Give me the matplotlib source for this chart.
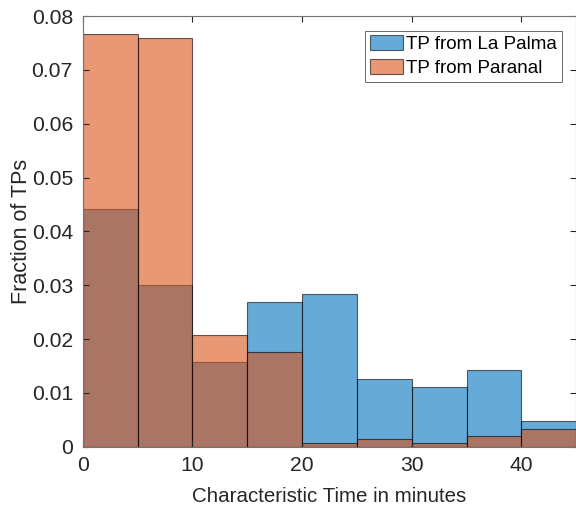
import numpy as np
import matplotlib
matplotlib.use("Agg")
import matplotlib.pyplot as plt

plt.rcParams['font.family'] = ['Liberation Sans', 'DejaVu Sans']

bin_edges = [0, 5, 10, 15, 20, 25, 30, 35, 40, 45]
la_palma = [0.0441, 0.0300, 0.0157, 0.0268, 0.0284, 0.0126, 0.0111, 0.0142, 0.0047]
paranal = [0.0767, 0.0760, 0.0207, 0.0175, 0.0007, 0.0014, 0.0007, 0.0020, 0.0033]
xticks = [0, 10, 20, 30, 40]
yticks = [0, 0.01, 0.02, 0.03, 0.04, 0.05, 0.06, 0.07, 0.08]

blue = (0, 0.447, 0.741)
orange = (0.85, 0.325, 0.098)

fig = plt.figure(figsize=(5.76, 5.08), dpi=100)
ax = fig.add_axes([0.1436, 0.1207, 0.857, 0.8478])

lefts = np.array(bin_edges[:-1])
widths = np.diff(bin_edges)
ax.bar(lefts, la_palma, width=widths, align='edge', color=blue, alpha=0.6,
       edgecolor=(0, 0, 0, 0.8), linewidth=0.8, label='TP from La Palma')
ax.bar(lefts, paranal, width=widths, align='edge', color=orange, alpha=0.6,
       edgecolor=(0, 0, 0, 0.8), linewidth=0.8, label='TP from Paranal')

ax.set_xlim(0, 45)
ax.set_ylim(0, 0.08)
ax.set_xticks(xticks)
ax.set_yticks(yticks)
ax.set_yticklabels(['0' if v == 0 else f'{v:.2f}' for v in yticks])
ax.tick_params(direction='in', length=4, labelsize=15.2, colors=(0.15, 0.15, 0.15),
               top=True, right=True, pad=7)
for s in ax.spines.values():
    s.set_color((0.45, 0.45, 0.45))
    s.set_linewidth(0.8)

ax.set_xlabel('Characteristic Time in minutes', fontsize=14.8, color=(0.15, 0.15, 0.15),
              labelpad=8)
ax.set_ylabel('Fraction of TPs', fontsize=15.5, color=(0.15, 0.15, 0.15), labelpad=0)

leg = ax.legend(loc='upper right', fontsize=13.5, frameon=True, fancybox=False,
                edgecolor=(0.15, 0.15, 0.15), handlelength=1.76, handleheight=0.85,
                handletextpad=0.2, borderpad=0.25, labelspacing=0.33,
                borderaxespad=0, bbox_to_anchor=(0.971, 0.966))
leg.get_frame().set_linewidth(0.6)

fig.savefig('out.png', dpi=100)
